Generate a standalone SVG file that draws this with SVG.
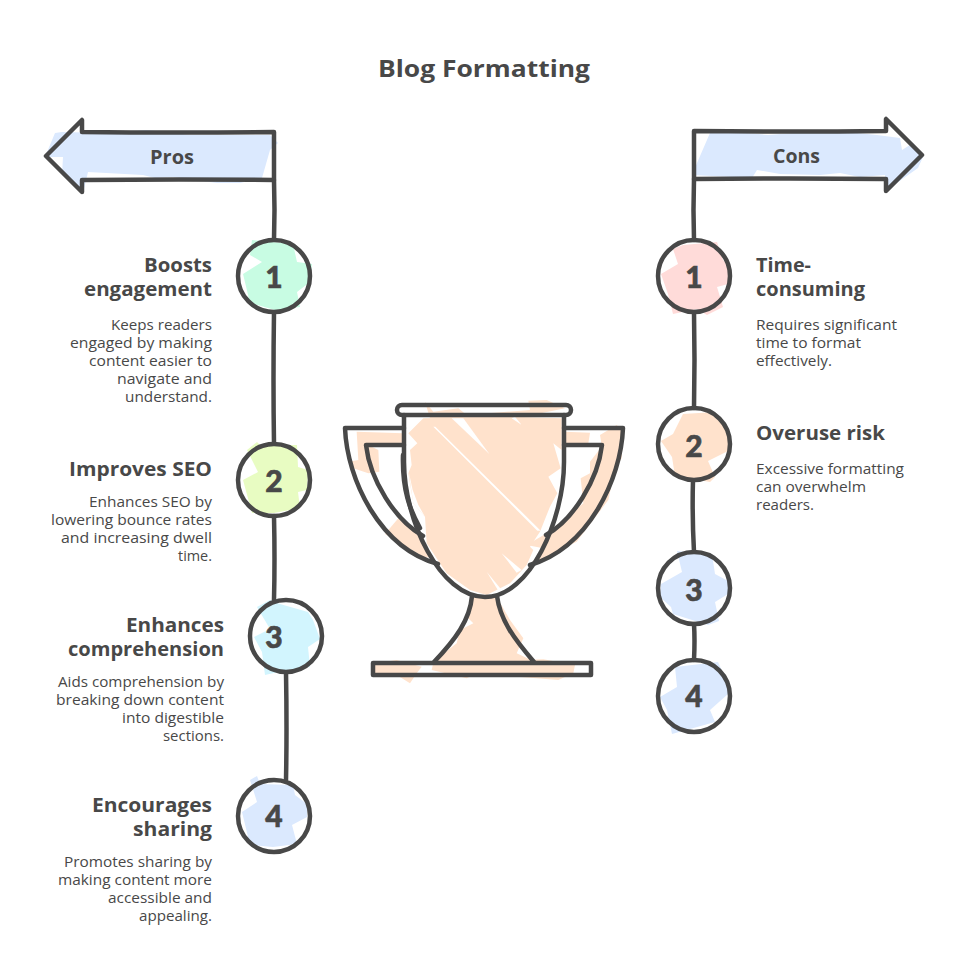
<svg xmlns="http://www.w3.org/2000/svg" width="968" height="972" viewBox="0 0 968 972">
<style>
text{fill:#484848;font-family:"Open Sans","Noto Sans",sans-serif}
.t{font-size:24px;font-weight:700}
.h{font-size:19px;font-weight:700}
.d{font-size:14px;font-weight:400}
.n{font-size:30px;font-weight:900;text-anchor:middle;font-family:"Lato","Open Sans",sans-serif;stroke:#484848;stroke-width:.6}
.e{text-anchor:end}
.s{fill:none;stroke:#484848;stroke-width:4.5;stroke-linecap:round;stroke-linejoin:round}
.blue{fill:#dbe9fe}.mint{fill:#c8fce3}.lime{fill:#e8fcc2}.cyan{fill:#d2f5fe}.red{fill:#ffdbd9}.peach{fill:#ffe2cc}
</style>
<rect width="968" height="972" fill="#ffffff"/>
<text class="t" x="378" y="77" textLength="212" lengthAdjust="spacingAndGlyphs">Blog Formatting</text>

<g id="connectors">
<path class="s" d="M274 180Q275 210 274 240"/>
<path class="s" d="M274 312Q273 380 274 444"/>
<path class="s" d="M274 516Q275 560 274 600"/>
<path class="s" d="M286 672Q287 730 286 780"/>
<path class="s" d="M694 179Q693 210 694 240"/>
<path class="s" d="M694 312Q695 360 694 408"/>
<path class="s" d="M693 480Q692 515 694 552"/>
<path class="s" d="M694 624Q695 640 694 660"/>
</g>

<g id="pros-arrow">
<polygon class="blue" points="55,133 62,132 107,133 147,130 190,135 270,135 278,143 270,150 262,178 240,183 217,183 173,177 155,178 143,175 88,172 83,193 80,190 62,175 63,157 45,157"/>
<path class="s" d="M46 156L82 120V132Q180 133 274 132V180Q180 179 82 180V192Z"/>
<text class="h" x="150" y="164" textLength="44" lengthAdjust="spacingAndGlyphs">Pros</text>
</g>
<g id="cons-arrow">
<polygon class="blue" points="710,133 747,133 768,135 793,133 827,130 877,135 900,138 902,150 913,143 923,157 918,168 887,190 885,175 860,177 840,173 820,175 780,174 757,170 752,178 692,175 697,163"/>
<path class="s" d="M922 155L886 119V131Q790 132 694 131V179Q790 178 886 179V191Z"/>
<text class="h" x="773" y="163" textLength="47" lengthAdjust="spacingAndGlyphs">Cons</text>
</g>

<g id="pro-1">
<polygon class="mint" transform="translate(274 276)" points="-22,-36 19,-32 23,-14 38,-12 36,6 23,16 26,31 1,34 -24,27 -31,-2 -12,-14 -24,-21"/>
<circle class="s" cx="274" cy="276" r="36"/>
<text class="n" x="274" y="288">1</text>
<text class="h e" x="212" y="272" textLength="68" lengthAdjust="spacingAndGlyphs">Boosts</text>
<text class="h e" x="212" y="296" textLength="128" lengthAdjust="spacingAndGlyphs">engagement</text>
<text class="d e" x="212" y="330" textLength="101" lengthAdjust="spacingAndGlyphs">Keeps readers</text>
<text class="d e" x="212" y="348" textLength="142" lengthAdjust="spacingAndGlyphs">engaged by making</text>
<text class="d e" x="212" y="366" textLength="123" lengthAdjust="spacingAndGlyphs">content easier to</text>
<text class="d e" x="212" y="384" textLength="95" lengthAdjust="spacingAndGlyphs">navigate and</text>
<text class="d e" x="212" y="402" textLength="87" lengthAdjust="spacingAndGlyphs">understand.</text>
</g>
<g id="pro-2">
<polygon class="lime" transform="translate(274 480)" points="-27,-30 -17,-38 -14,-35 23,-35 24,-13 34,-10 33,10 24,12 26,28 0,33 -22,33 -31,0 -16,-8"/>
<circle class="s" cx="274" cy="480" r="36"/>
<text class="n" x="274" y="492">2</text>
<text class="h e" x="212" y="476" textLength="143" lengthAdjust="spacingAndGlyphs">Improves SEO</text>
<text class="d e" x="212" y="507" textLength="123" lengthAdjust="spacingAndGlyphs">Enhances SEO by</text>
<text class="d e" x="212" y="525" textLength="161" lengthAdjust="spacingAndGlyphs">lowering bounce rates</text>
<text class="d e" x="212" y="543" textLength="151" lengthAdjust="spacingAndGlyphs">and increasing dwell</text>
<text class="d e" x="212" y="561" textLength="34" lengthAdjust="spacingAndGlyphs">time.</text>
</g>
<g id="pro-3">
<polygon class="cyan" transform="translate(286 636)" points="-29,-29 -16,-36 -6,-32 22,-24 27,-16 34,3 22,11 24,31 1,34 -21,39 -24,16 -32,1 -16,-7"/>
<circle class="s" cx="286" cy="636" r="36"/>
<text class="n" x="274" y="648">3</text>
<text class="h e" x="224" y="632" textLength="98" lengthAdjust="spacingAndGlyphs">Enhances</text>
<text class="h e" x="224" y="656" textLength="156" lengthAdjust="spacingAndGlyphs">comprehension</text>
<text class="d e" x="224" y="687" textLength="166" lengthAdjust="spacingAndGlyphs">Aids comprehension by</text>
<text class="d e" x="224" y="705" textLength="168" lengthAdjust="spacingAndGlyphs">breaking down content</text>
<text class="d e" x="224" y="723" textLength="102" lengthAdjust="spacingAndGlyphs">into digestible</text>
<text class="d e" x="224" y="741" textLength="61" lengthAdjust="spacingAndGlyphs">sections.</text>
</g>
<g id="pro-4">
<polygon class="blue" transform="translate(274 816)" points="-24,-36 -17,-40 -14,-32 19,-31 21,-21 33,-12 33,1 18,9 23,28 -1,31 -24,29 -32,-4 -17,-14"/>
<circle class="s" cx="274" cy="816" r="36"/>
<text class="n" x="274" y="827">4</text>
<text class="h e" x="212" y="812" textLength="120" lengthAdjust="spacingAndGlyphs">Encourages</text>
<text class="h e" x="212" y="836" textLength="79" lengthAdjust="spacingAndGlyphs">sharing</text>
<text class="d e" x="212" y="867" textLength="148" lengthAdjust="spacingAndGlyphs">Promotes sharing by</text>
<text class="d e" x="212" y="885" textLength="154" lengthAdjust="spacingAndGlyphs">making content more</text>
<text class="d e" x="212" y="903" textLength="104" lengthAdjust="spacingAndGlyphs">accessible and</text>
<text class="d e" x="212" y="921" textLength="73" lengthAdjust="spacingAndGlyphs">appealing.</text>
</g>

<g id="con-1">
<polygon class="red" transform="translate(694 276)" points="-21,-27 -11,-31 23,-34 29,-16 36,-9 34,8 23,11 29,31 13,39 3,33 -21,38 -26,18 -33,-2 -16,-12"/>
<circle class="s" cx="694" cy="276" r="36"/>
<text class="n" x="694" y="288">1</text>
<text class="h" x="756" y="272" textLength="55" lengthAdjust="spacingAndGlyphs">Time-</text>
<text class="h" x="756" y="296" textLength="109" lengthAdjust="spacingAndGlyphs">consuming</text>
<text class="d" x="756" y="330" textLength="141" lengthAdjust="spacingAndGlyphs">Requires significant</text>
<text class="d" x="756" y="348" textLength="105" lengthAdjust="spacingAndGlyphs">time to format</text>
<text class="d" x="756" y="366" textLength="76" lengthAdjust="spacingAndGlyphs">effectively.</text>
</g>
<g id="con-2">
<polygon class="peach" transform="translate(694 444)" points="-21,-10 -11,-30 21,-32 34,-10 34,7 14,17 21,33 16,38 -19,32 -22,13 -33,-3"/>
<circle class="s" cx="694" cy="444" r="36"/>
<text class="n" x="694" y="457">2</text>
<text class="h" x="756" y="440" textLength="129" lengthAdjust="spacingAndGlyphs">Overuse risk</text>
<text class="d" x="756" y="474" textLength="148" lengthAdjust="spacingAndGlyphs">Excessive formatting</text>
<text class="d" x="756" y="492" textLength="110" lengthAdjust="spacingAndGlyphs">can overwhelm</text>
<text class="d" x="756" y="510" textLength="58" lengthAdjust="spacingAndGlyphs">readers.</text>
</g>
<g id="con-3">
<polygon class="blue" transform="translate(694 588)" points="-17,-37 18,-34 21,-14 36,-6 34,6 21,14 25,33 14,37 -21,26 -23,19 -34,9 -33,-4 -12,-16"/>
<circle class="s" cx="694" cy="588" r="36"/>
<text class="n" x="694" y="601">3</text>
</g>
<g id="con-4">
<polygon class="blue" transform="translate(694 696)" points="-19,-29 24,-34 34,-12 34,-2 16,14 21,26 -22,38 -27,14 -34,1 -17,-9"/>
<circle class="s" cx="694" cy="696" r="36"/>
<text class="n" x="694" y="707">4</text>
</g>

<g id="trophy">
<g class="peach" transform="translate(330 390) scale(.33333)">
<polygon points="235,130 280,85 555,80 695,85 695,180 670,160 692,235 655,260 682,310 660,350 630,425 600,470 610,480 590,525 540,580 470,615 420,600 350,550 290,460 285,380 250,340 235,250 245,225 240,180 262,160"/>
<polygon points="285,35 310,65 385,55 410,75 600,60 595,32 650,30 705,55 560,85 300,85"/>
<polygon points="80,125 218,130 218,158 108,162 145,180 148,245 115,250 70,235 55,215 85,210"/>
<polygon points="205,385 270,440 310,505 280,500 165,432"/>
<polygon points="705,125 780,128 775,160 815,165 810,135 860,105 880,125 875,205 855,235 835,330 740,455 600,525 640,475 590,465 650,430 760,340 752,265 780,250 780,215 815,170 705,160"/>
<polygon points="425,620 500,620 540,690 580,745 560,790 615,815 310,815 380,760 390,720 430,700 410,680"/>
<polygon points="125,855 135,820 200,810 275,830 260,850 240,880 200,855"/>
<polygon points="305,840 410,865 440,850 685,870 730,850 735,825 640,808 310,818"/>
</g>
<g fill="#ffffff" transform="translate(330 390) scale(.33333)">
<polygon points="310,110 316,110 632,422 622,422"/>
<polygon points="365,85 400,85 478,192"/>
<polygon points="545,85 575,105 555,80"/>
<polygon points="515,490 575,540 560,548"/>
<polygon points="470,545 515,600 505,602"/>
<polygon points="235,240 250,340 285,380 265,345 248,300"/>
</g>
<path class="s" d="M404 415V462C404 520 440 597 485 597C530 597 564 520 564 462V415"/>
<path class="s" d="M403 455C402 490 410 510 420 528"/>
<rect class="s" x="397" y="405" width="174" height="10" rx="5"/>
<path class="s" d="M404 428H345C347 480 380 548 438 564"/>
<path class="s" d="M404 445H366C370 480 395 520 423 536"/>
<path class="s" d="M564 428H623C621 480 588 548 530 565"/>
<path class="s" d="M564 445H602C598 480 573 520 546 535"/>
<path class="s" d="M472 596C470 620 455 640 434 662"/>
<path class="s" d="M497 596C500 620 515 640 534 662"/>
<rect class="s" x="373" y="663" width="218" height="12"/>
</g>
</svg>
